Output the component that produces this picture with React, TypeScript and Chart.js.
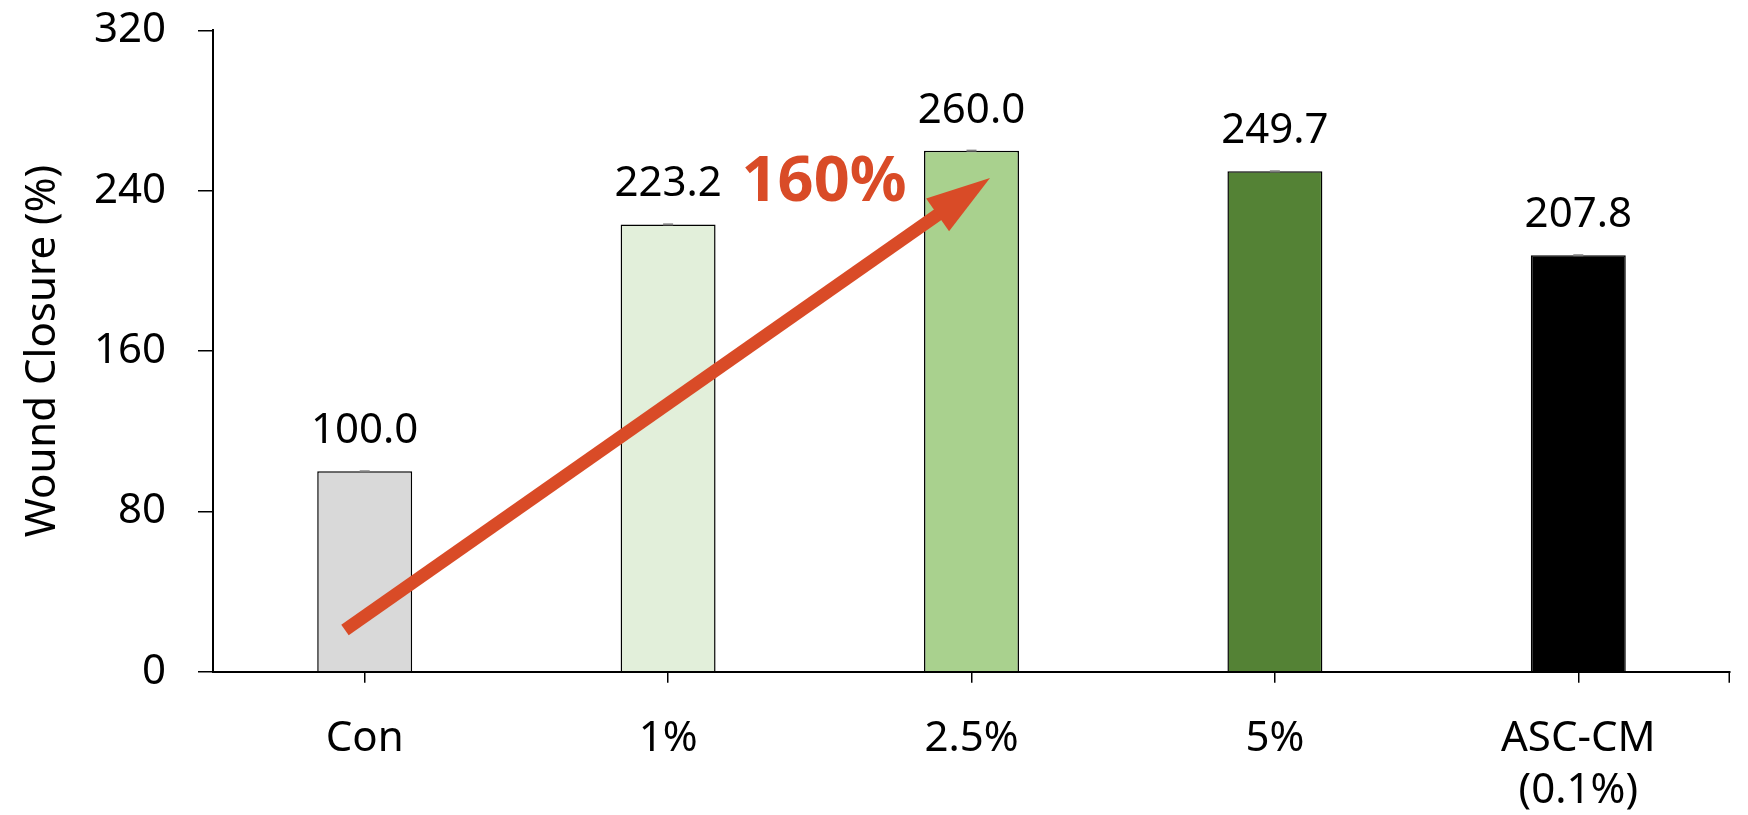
import React, { useEffect, useRef } from 'react';
import { Chart, registerables } from 'chart.js';

Chart.register(...registerables);

const categories: (string | string[])[] = ['Con', '1%', '2.5%', '5%', ['ASC-CM', '(0.1%)']];
const values = [100.0, 223.2, 260.0, 249.7, 207.8];
const valueLabels = ['100.0', '223.2', '260.0', '249.7', '207.8'];
const errors = [0, 0, 0, 0, 0];
const barColors = ['#D9D9D9', '#E2EFDA', '#A9D18E', '#548235', '#000000'];
const yTicks = [0, 80, 160, 240, 320];
const yTitle = 'Wound Closure (%)';
const annotationText = '160%';
// arrow endpoints in data units (category index, value)
const arrowFrom = { x: -0.065, y: 20.8 };
const arrowTo = { x: 2.061, y: 246.3 };
const annotationPos = { x: 1.514, y: 235 };

const FONT = "'Noto Sans', 'Open Sans', sans-serif";
const ORANGE = '#D94B27';

const overlayPlugin = {
  id: 'overlay',
  afterDatasetsDraw(chart: any) {
    const { ctx, scales } = chart;
    const xs = scales.x;
    const ys = scales.y;
    const meta = chart.getDatasetMeta(0);
    ctx.save();
    // error caps and value labels
    meta.data.forEach((bar: any, i: number) => {
      const yTop = ys.getPixelForValue(values[i] + errors[i]);
      ctx.strokeStyle = '#7F7F7F';
      ctx.lineWidth = 2;
      ctx.beginPath();
      ctx.moveTo(bar.x - 5, yTop);
      ctx.lineTo(bar.x + 5, yTop);
      ctx.stroke();
      ctx.fillStyle = '#000';
      ctx.font = `42px ${FONT}`;
      ctx.textAlign = 'center';
      ctx.textBaseline = 'alphabetic';
      ctx.fillText(valueLabels[i], bar.x, ys.getPixelForValue(values[i]) - 28);
    });
    // end tick on x axis
    ctx.strokeStyle = '#000';
    ctx.lineWidth = 1.5;
    ctx.beginPath();
    ctx.moveTo(xs.right - 0.75, ys.bottom);
    ctx.lineTo(xs.right - 0.75, ys.bottom + 11);
    ctx.stroke();
    // arrow
    const x0 = xs.getPixelForValue(arrowFrom.x);
    const y0 = ys.getPixelForValue(arrowFrom.y);
    const x1 = xs.getPixelForValue(arrowTo.x);
    const y1 = ys.getPixelForValue(arrowTo.y);
    const ang = Math.atan2(y1 - y0, x1 - x0);
    const headLen = 64;
    const headW = 40;
    const cos = Math.cos(ang);
    const sin = Math.sin(ang);
    const bx = x1 - headLen * cos;
    const by = y1 - headLen * sin;
    ctx.strokeStyle = ORANGE;
    ctx.fillStyle = ORANGE;
    ctx.lineWidth = 13;
    ctx.lineCap = 'butt';
    ctx.beginPath();
    ctx.moveTo(x0, y0);
    ctx.lineTo(bx + 8 * cos, by + 8 * sin);
    ctx.stroke();
    ctx.beginPath();
    ctx.moveTo(x1, y1);
    ctx.lineTo(bx - (headW / 2) * sin, by + (headW / 2) * cos);
    ctx.lineTo(bx + (headW / 2) * sin, by - (headW / 2) * cos);
    ctx.closePath();
    ctx.fill();
    // annotation text
    ctx.font = `bold 63px ${FONT}`;
    ctx.textAlign = 'center';
    ctx.textBaseline = 'alphabetic';
    ctx.fillText(annotationText, xs.getPixelForValue(annotationPos.x), ys.getPixelForValue(annotationPos.y));
    ctx.restore();
  },
};

export default function App() {
  const ref = useRef<HTMLCanvasElement>(null);
  useEffect(() => {
    if (!ref.current) return;
    const chart = new Chart(ref.current, {
      type: 'bar',
      data: {
        labels: categories as any,
        datasets: [
          {
            data: values,
            backgroundColor: barColors,
            borderColor: '#000',
            borderWidth: 1.5,
            categoryPercentage: 1,
            barPercentage: 0.313,
          },
        ],
      },
      options: {
        animation: false,
        responsive: true,
        maintainAspectRatio: false,
        layout: { padding: { top: 30.4, right: 18, left: 0, bottom: 0 } },
        plugins: { legend: { display: false }, tooltip: { enabled: false } },
        scales: {
          x: {
            offset: true,
            grid: {
              offset: false,
              drawOnChartArea: false,
              drawTicks: true,
              tickLength: 11,
              color: '#000',
              lineWidth: 1.5,
            },
            border: { display: true, color: '#000', width: 2 },
            ticks: {
              color: '#000',
              font: { family: FONT, size: 42, lineHeight: 1.24 },
              padding: 30,
              maxRotation: 0,
              autoSkip: false,
            },
            afterFit: (s: any) => {
              s.height = 143.3;
              s.paddingLeft = 0;
              s.paddingRight = 0;
            },
          },
          y: {
            min: 0,
            max: 320,
            grid: {
              drawOnChartArea: false,
              drawTicks: true,
              tickLength: 15,
              color: '#000',
              lineWidth: 1.5,
            },
            border: { display: true, color: '#000', width: 2 },
            ticks: {
              color: '#000',
              font: { family: FONT, size: 42 },
              padding: 32,
            },
            afterBuildTicks: (s: any) => {
              s.ticks = yTicks.map((v) => ({ value: v }));
            },
            title: {
              display: true,
              text: yTitle,
              color: '#000',
              font: { family: FONT, size: 42, lineHeight: 1.2 },
              padding: { top: 18, bottom: 0 },
            },
            afterFit: (s: any) => {
              s.width = 213;
              s.paddingTop = 0;
              s.paddingBottom = 0;
            },
          },
        },
      },
      plugins: [overlayPlugin],
    });
    return () => chart.destroy();
  }, []);
  return (
    <div style={{ position: 'fixed', left: 0, top: 0, width: 1748, height: 815, background: '#fff' }}>
      <canvas ref={ref} />
    </div>
  );
}
